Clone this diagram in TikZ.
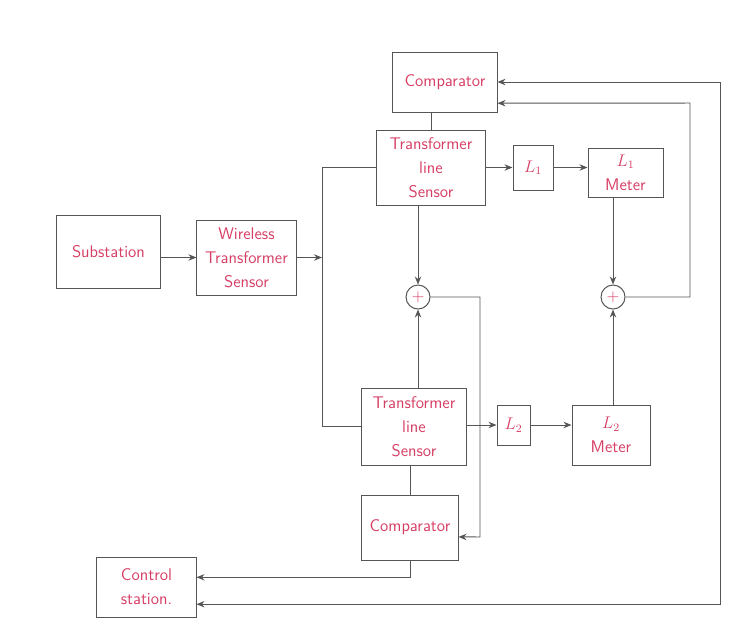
\documentclass[tikz,border=0pt]{standalone}
\usetikzlibrary{arrows.meta}
\definecolor{ink}{RGB}{214,62,100}
\definecolor{pencil}{RGB}{85,85,85}

\begin{document}
\begin{tikzpicture}[
  x=0.025cm, y=-0.025cm,
  >={Stealth[length=2mm,width=1.6mm]},
  font=\sffamily\fontsize{12}{17}\selectfont,
  color=pencil, line width=.7pt,
  box/.style={draw=pencil,line width=.7pt,text=ink,align=center,inner sep=1pt},
  sum/.style={draw=pencil,line width=.7pt,circle,minimum size=.6cm,inner sep=0pt,text=ink}
]
  \useasboundingbox (0,0) rectangle (738,619);

  % Upper chain.
  \node[box,minimum width=2.6cm,minimum height=1.5cm] (comptop) at (445,82) {Comparator};
  \node[box,minimum width=2.7cm,minimum height=1.875cm] (sensortop) at (431,167.5)
    {Transformer\\line\\Sensor};
  \node[box,minimum width=1cm,minimum height=1.125cm] (lone) at (533,167.5) {$L_1$};
  \node[box,minimum width=1.875cm,minimum height=1.225cm] (lonemeter) at (625.5,172.5)
    {$L_1$\\Meter};
  \node[sum] (sumone) at (418,297) {$+$};
  \node[sum] (sumtwo) at (613,297) {$+$};

  % Input side.
  \node[box,minimum width=2.575cm,minimum height=1.825cm] (substation) at (108.5,251.5)
    {Substation};
  \node[box,minimum width=2.475cm,minimum height=1.875cm] (wireless) at (246.5,257.5)
    {Wireless\\Transformer\\Sensor};

  % Lower chain.
  \node[box,minimum width=2.6cm,minimum height=1.925cm] (sensorbot) at (414,426.5)
    {Transformer\\line\\Sensor};
  \node[box,minimum width=.825cm,minimum height=1cm] (ltwo) at (513.5,425) {$L_2$};
  \node[box,minimum width=1.95cm,minimum height=1.5cm] (ltwometer) at (611,435)
    {$L_2$\\Meter};
  \node[box,minimum width=2.4cm,minimum height=1.625cm] (compbot) at (410,527.5)
    {Comparator};
  \node[box,minimum width=2.475cm,minimum height=1.5cm] (control) at (146.5,587)
    {Control\\station.};

  \coordinate (bustop) at (322,167.5);
  \coordinate (busbot) at (322,426.5);
  \coordinate (fbbot) at (480,537);
  \coordinate (fbtop) at (690,103);
  \coordinate (ctop) at (720,82);

  \draw[->] (substation.east |- wireless.west) -- (wireless.west);
  \draw[->] (wireless.east) -- (wireless.east -| bustop);
  \draw (sensortop.west) -- (bustop) -- (busbot) -- (sensorbot.west);

  \draw (sensortop.north) -- (sensortop.north |- comptop.south);
  \draw[->] (sensortop.east) -- (lone.west);
  \draw[->] (lone.east) -- (lone.east -| lonemeter.west);
  \draw[->] (sumone.north |- sensortop.south) -- (sumone.north);
  \draw[->] (sumone.south |- sensorbot.north) -- (sumone.south);
  \draw[->] (sumtwo.north |- lonemeter.south) -- (sumtwo.north);
  \draw[->] (sumtwo.south |- ltwometer.north) -- (sumtwo.south);

  \draw[->] (sensorbot.east |- ltwo.west) -- (ltwo.west);
  \draw[->] (ltwo.east) -- (ltwo.east -| ltwometer.west);
  \draw (sensorbot.south -| compbot.north) -- (compbot.north);

  % Feedback loops.
  \draw[->] (sumone.east) -| (fbbot) -- (compbot.-11);
  \draw[->] (sumtwo.east) -| (fbtop) -- (comptop.-22);
  \draw[->] (compbot.south) |- (control.11);
  \draw[<->] (control.-19) -| (ctop) -- (comptop.east);
\end{tikzpicture}
\end{document}
